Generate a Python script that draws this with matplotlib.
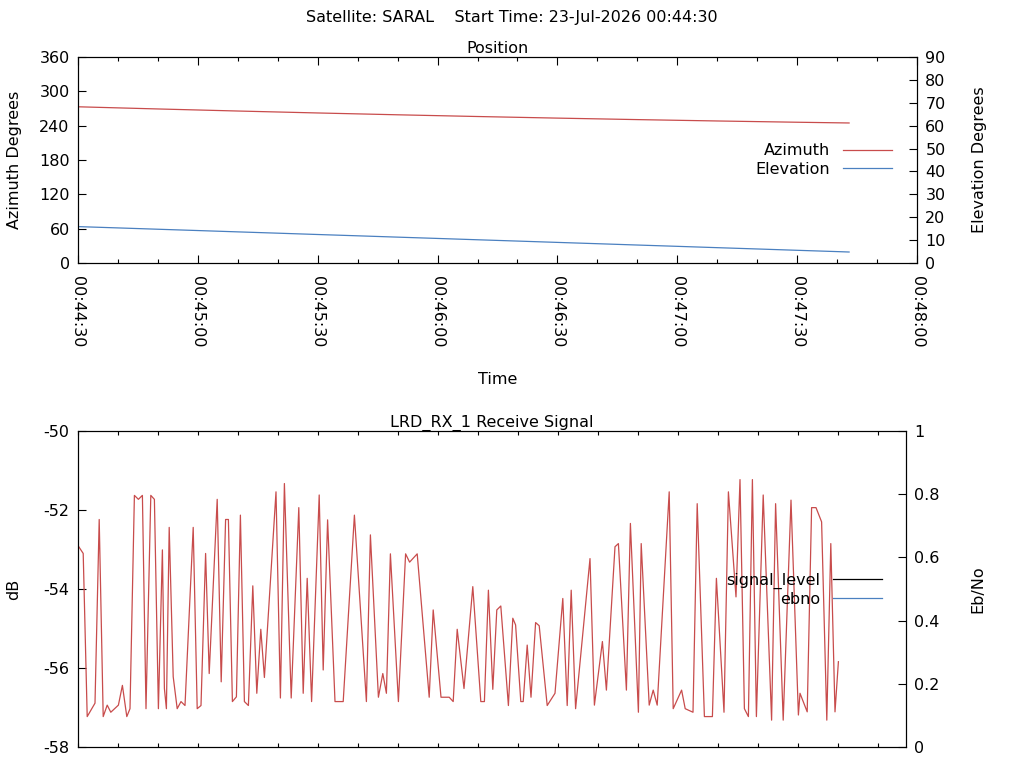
import matplotlib
matplotlib.use("Agg")
import matplotlib.pyplot as plt
from matplotlib.lines import Line2D
from matplotlib.ticker import MultipleLocator, FuncFormatter

plt.rcParams["font.family"] = ["DejaVu Sans"]
plt.rcParams["font.size"] = 11.5
plt.rcParams["axes.titlesize"] = 11.5
plt.rcParams["axes.unicode_minus"] = False

RED = "#c84c4c"
BLUE = "#4a80c0"

START_H, START_M, START_S = 0, 44, 30

# position samples, seconds after 00:44:30
pos_t = [0, 10, 20, 30, 40, 50, 60, 70, 80, 90, 100, 110, 120, 130, 140,
         150, 160, 170, 180, 190, 193]
azimuth = [273.0, 271.1, 269.2, 267.4, 265.6, 263.9, 262.2, 260.6, 259.0,
           257.5, 256.0, 254.6, 253.2, 251.9, 250.6, 249.4, 248.2, 247.1,
           246.0, 245.0, 244.7]
elevation = [15.9, 15.33, 14.75, 14.18, 13.6, 13.03, 12.45, 11.88, 11.3,
             10.73, 10.15, 9.58, 9.0, 8.43, 7.85, 7.28, 6.7, 6.13, 5.55, 4.98,
             4.8]

# receive signal turning points, seconds after 00:44:30 / dB
sig_t = [0.0, 1.3, 2.3, 4.25, 5.3, 6.3, 7.3, 8.2, 10.1, 11.1, 12.2, 13.0, 14.1,
         15.1, 16.1, 17.0, 18.2, 19.1, 20.1, 21.1, 21.6, 22.1, 22.8, 23.8,
         24.8, 25.75, 26.75, 28.8, 29.8, 30.75, 31.9, 32.8, 34.8, 35.8, 36.9,
         37.6, 38.6, 39.6, 40.6, 41.6, 42.6, 43.7, 44.7, 45.7, 46.6, 49.5,
         50.6, 51.6, 53.3, 55.2, 56.3, 57.3, 58.4, 60.3, 61.3, 62.4, 64.25,
         66.3, 69.1, 72.1, 73.1, 75.1, 76.2, 77.1, 78.1, 80.1, 81.9, 82.9,
         84.8, 87.8, 88.8, 90.75, 92.8, 93.8, 94.8, 96.5, 98.7, 100.7, 101.6,
         102.6, 103.7, 104.7, 105.7, 107.6, 108.7, 109.4, 110.7, 111.3, 112.3,
         113.25, 114.4, 115.3, 117.3, 119.25, 121.2, 122.3, 123.3, 124.4,
         128.0, 129.1, 131.1, 132.1, 134.25, 135.1, 137.1, 138.1, 140.1,
         140.8, 142.8, 143.8, 144.8, 147.8, 148.8, 150.9, 151.8, 153.75,
         154.8, 156.6, 158.6, 159.6, 161.5, 162.6, 164.5, 165.5, 166.6, 167.6,
         168.6, 169.6, 171.3, 173.4, 174.4, 176.3, 178.25, 180.1, 180.5, 182.3,
         183.4, 184.5, 185.9, 187.2, 188.2, 189.25, 190.1]
sig_db = [-52.9, -53.1, -57.23, -56.89, -52.24, -57.23, -56.94, -57.12, -56.94,
          -56.44, -57.23, -57.03, -51.63, -51.73, -51.63, -57.03, -51.63,
          -51.73, -57.03, -53.01, -56.52, -57.03, -52.44, -56.22, -57.03,
          -56.85, -56.95, -52.44, -57.03, -56.95, -53.1, -56.14, -51.73,
          -56.35, -52.24, -52.24, -56.85, -56.73, -52.13, -56.85, -56.95,
          -53.92, -56.64, -55.02, -56.24, -51.54, -56.76, -51.33, -56.76,
          -51.94, -56.64, -53.73, -56.85, -51.62, -56.05, -52.25, -56.85,
          -56.85, -52.13, -56.85, -52.63, -56.74, -56.14, -56.64, -53.11,
          -56.85, -53.11, -53.32, -53.11, -56.74, -54.53, -56.74, -56.74,
          -56.85, -55.02, -56.52, -53.94, -56.85, -56.85, -54.03, -56.54,
          -54.53, -54.43, -56.95, -54.74, -54.91, -56.85, -56.85, -55.42,
          -56.74, -54.85, -54.93, -56.95, -56.64, -54.24, -56.95, -54.03,
          -57.03, -53.23, -56.94, -55.33, -56.56, -52.93, -52.85, -56.56,
          -52.34, -57.12, -52.85, -56.94, -56.56, -56.94, -51.54, -57.03,
          -56.56, -57.03, -57.12, -51.84, -57.23, -57.23, -53.73, -57.12,
          -51.54, -54.20, -51.23, -57.03, -57.23, -51.23, -57.23, -51.62,
          -57.32, -51.84, -57.32, -51.75, -57.19, -56.64, -57.11, -51.94,
          -51.94, -52.30, -57.32, -52.85, -57.11, -55.84]


def clock(sec, pos=None):
    total = START_H * 3600 + START_M * 60 + START_S + int(round(sec))
    return "%02d:%02d:%02d" % (total // 3600, (total // 60) % 60, total % 60)


def _ticks(ax, **kw):
    ax.tick_params(which="both", direction="in", width=0.8, **kw)
    ax.tick_params(which="major", length=6)
    ax.tick_params(which="minor", length=3)


fig = plt.figure(figsize=(10.24, 7.68), dpi=100)
fig.text(0.5, 1 - 17.5 / 768, "Satellite: SARAL    Start Time: 23-Jul-2026 00:44:30",
         ha="center", va="center")

# ---- position panel
ax1 = fig.add_axes([78 / 1024, 1 - 263 / 768, 839 / 1024, 206 / 768])
ax1.plot(pos_t, azimuth, color=RED, lw=0.9)
ax1.set_xlim(0, 210)
ax1.set_ylim(0, 360)
ax1.yaxis.set_major_locator(MultipleLocator(60))
ax1.xaxis.set_major_locator(MultipleLocator(30))
ax1.xaxis.set_minor_locator(MultipleLocator(10))
ax1.xaxis.set_major_formatter(FuncFormatter(clock))
_ticks(ax1, top=True, right=False, pad=6)
ax1.tick_params(axis="x", pad=9)
for lab in ax1.get_xticklabels():
    lab.set_rotation(-90)
    lab.set_va("top")
ax1.set_ylabel("Azimuth Degrees", labelpad=12.5)
ax1.set_xlabel("Time", labelpad=18)
ax1.set_title("Position", pad=3)

ax1r = ax1.twinx()
ax1r.plot(pos_t, elevation, color=BLUE, lw=0.9)
ax1r.set_ylim(0, 90)
ax1r.yaxis.set_major_locator(MultipleLocator(10))
_ticks(ax1r, pad=6)
ax1r.set_ylabel("Elevation Degrees", labelpad=19)

handles = [Line2D([], [], color=RED, lw=0.9), Line2D([], [], color=BLUE, lw=0.9)]
ax1.legend(handles, ["Azimuth", "Elevation"], loc="center right",
           bbox_to_anchor=(0.978, 0.5), frameon=False, markerfirst=False,
           handlelength=3.1, handletextpad=0.8, labelspacing=0.2,
           fontsize=11.5, borderaxespad=0)

# ---- receive signal panel
ax2 = fig.add_axes([78 / 1024, 1 - 747 / 768, 828 / 1024, 316 / 768])
ax2.plot(sig_t, sig_db, color=RED, lw=0.9)
ax2.set_xlim(0, 207)
ax2.set_ylim(-58, -50)
ax2.yaxis.set_major_locator(MultipleLocator(2))
ax2.xaxis.set_major_locator(MultipleLocator(30))
ax2.xaxis.set_minor_locator(MultipleLocator(10))
ax2.set_xticklabels([])
_ticks(ax2, top=True, right=False, pad=6)
ax2.tick_params(axis="x", which="major", length=3)
ax2.set_ylabel("dB", labelpad=16)
ax2.set_title("LRD_RX_1 Receive Signal", pad=3)

ax2r = ax2.twinx()
ax2r.set_ylim(0, 1)
ax2r.yaxis.set_major_locator(MultipleLocator(0.2))
ax2r.yaxis.set_major_formatter(FuncFormatter(lambda v, p: "%g" % round(v, 1)))
_ticks(ax2r, pad=6)
ax2r.set_ylabel("Eb/No", labelpad=22)

handles2 = [Line2D([], [], color="black", lw=0.9), Line2D([], [], color=BLUE, lw=0.9)]
ax2.legend(handles2, ["signal_level", "ebno"], loc="center right",
           bbox_to_anchor=(0.979, 0.498), frameon=False, markerfirst=False,
           handlelength=3.1, handletextpad=0.8, labelspacing=0.2,
           fontsize=11.5, borderaxespad=0)

for a in (ax1, ax1r, ax2, ax2r):
    for s in a.spines.values():
        s.set_linewidth(0.8)

fig.savefig("out.png", dpi=100, facecolor="white")
